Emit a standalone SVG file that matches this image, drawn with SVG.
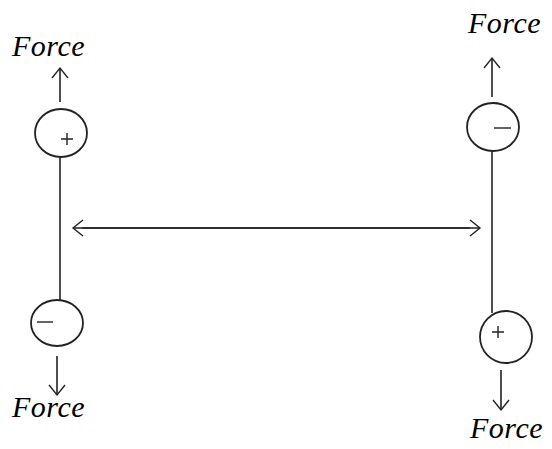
<svg xmlns="http://www.w3.org/2000/svg" width="552" height="449" viewBox="0 0 552 449">
<defs>
<marker id="ah" markerUnits="userSpaceOnUse" markerWidth="24" markerHeight="24" viewBox="-12 -12 24 24" refX="0" refY="0" orient="auto" overflow="visible">
<path d="M-10,-8 L0,0 L-10,8" fill="none" stroke="#222" stroke-width="1.4"/>
</marker>
</defs>
<style>
.ln{stroke:#222;stroke-width:1.6;fill:none}
.c{stroke:#222;stroke-width:1.8;fill:#fff}
.s{stroke:#222;stroke-width:1.4;fill:none}
</style>
<g id="connectors">
<line class="ln" x1="60" y1="157" x2="60" y2="300"/>
<line class="ln" x1="492" y1="151" x2="492" y2="313"/>
<line class="ln" x1="82" y1="228" x2="480" y2="228" marker-end="url(#ah)"/>
<line class="ln" x1="470" y1="228" x2="73" y2="228" marker-end="url(#ah)"/>
<line class="ln" x1="60" y1="102" x2="60" y2="68" marker-end="url(#ah)"/>
<line class="ln" x1="57" y1="356" x2="57" y2="395" marker-end="url(#ah)"/>
<line class="ln" x1="492" y1="97" x2="492" y2="58" marker-end="url(#ah)"/>
<line class="ln" x1="501" y1="370" x2="501" y2="410" marker-end="url(#ah)"/>
</g>
<g id="plus-left">
<ellipse class="c" cx="61" cy="133" rx="26" ry="24"/>
<path class="s" d="M61,139 H73 M67,133 V145"/>
</g>
<g id="minus-left">
<ellipse class="c" cx="57" cy="323" rx="26" ry="23"/>
<path class="s" d="M37,322 H53"/>
</g>
<g id="minus-right">
<ellipse class="c" cx="493" cy="127" rx="26" ry="24"/>
<path class="s" d="M494,128 H511"/>
</g>
<g id="plus-right">
<ellipse class="c" cx="506" cy="337" rx="26" ry="26"/>
<path class="s" d="M492,332 H504 M498,326 V338"/>
</g>
<g id="labels" font-family="'Liberation Serif', 'Times New Roman', Times, serif" font-style="italic" font-size="30" fill="#000" letter-spacing="0.5">
<text x="12" y="56">Force</text>
<text x="468" y="33">Force</text>
<text x="12" y="417">Force</text>
<text x="470" y="438">Force</text>
</g>
</svg>
